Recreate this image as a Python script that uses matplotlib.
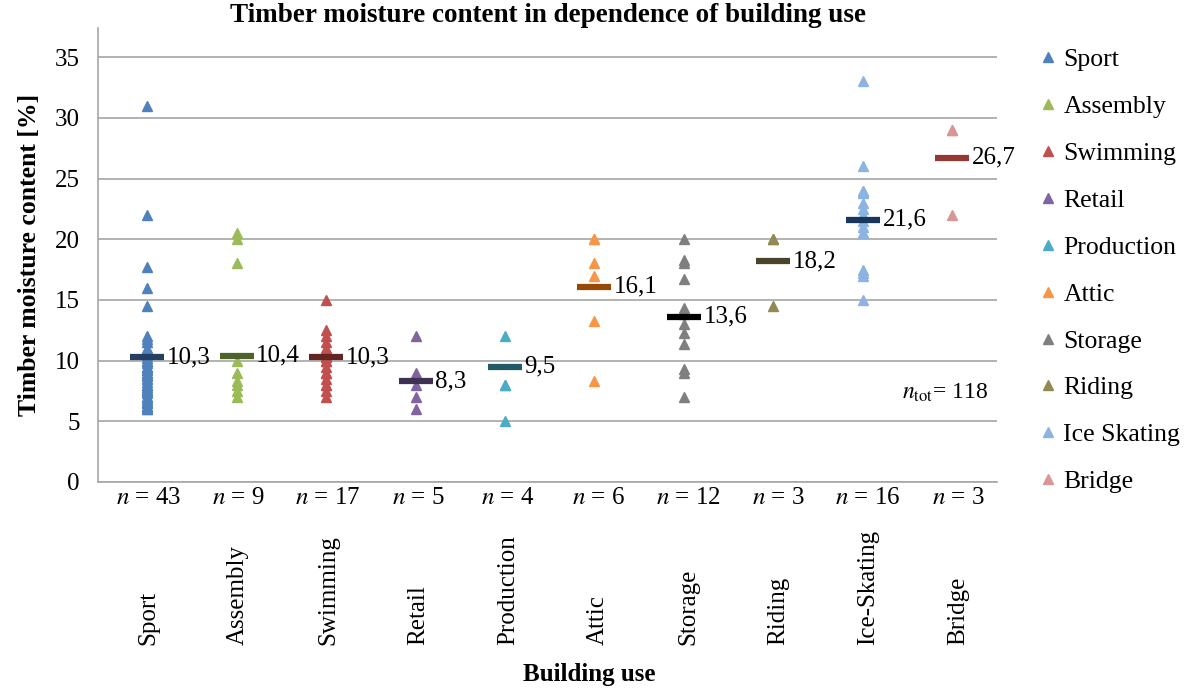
import matplotlib.pyplot as plt

plt.rcParams['font.family'] = ['Liberation Serif', 'DejaVu Serif']
plt.rcParams['mathtext.fontset'] = 'stix'

# categories
uses = ['Sport', 'Assembly', 'Swimming', 'Retail', 'Production', 'Attic',
        'Storage', 'Riding', 'Ice-Skating', 'Bridge']
legend_names = ['Sport', 'Assembly', 'Swimming', 'Retail', 'Production', 'Attic',
                'Storage', 'Riding', 'Ice Skating', 'Bridge']

# measured moisture values [%]
sport = [31, 22, 17.7, 16, 14.5, 12, 11.8, 11.5, 11, 10.8,
         10.5, 10.2, 10, 10, 9.8, 9.5, 9.5, 9.3, 9.2, 9,
         9, 8.8, 8.7, 8.5, 8.5, 8.2, 8, 8, 7.8, 7.7,
         7.5, 7.5, 7.3, 7, 7, 6.8, 6.7, 6.5, 6.5, 6.3,
         6.2, 6, 6]
assembly = [20.5, 20, 18, 10, 9, 8.3, 8, 7.5, 7]
swimming = [15, 12.5, 12, 11.5, 11, 10.5, 10.3, 10, 10, 9.5, 9, 9, 8.5, 8, 8, 7.5, 7]
retail = [12, 9, 8, 7, 6]
production = [12, 8, 8, 5]
attic = [20, 20, 18, 17, 13.3, 8.3]
storage = [20, 18.3, 18, 16.7, 14.3, 13.8, 13, 12.3, 11.4, 9.3, 9, 7]
riding = [20, 20, 14.5]
ice_skating = [33, 26, 24, 24, 23.8, 23, 22.5, 22, 21.5, 21, 20.5, 20.5, 17.5, 17.2, 17, 15]
bridge = [29, 22, 29]

series = [sport, assembly, swimming, retail, production, attic,
          storage, riding, ice_skating, bridge]

# mean values shown as bars with labels
means = [10.3, 10.4, 10.3, 8.3, 9.5, 16.1, 13.6, 18.2, 21.6, 26.7]

point_colors = ['#4F81BD', '#9BBB59', '#C0504D', '#8064A2', '#4BACC6', '#F79646',
                '#7F7F7F', '#938953', '#8DB3E2', '#D99694']
mean_colors = ['#243F60', '#4F6228', '#632523', '#3F3151', '#215967', '#974806',
               '#000000', '#4A452A', '#17375E', '#953735']

fs = 18

fig = plt.figure(figsize=(11.89, 6.90), dpi=100)
ax = fig.add_axes([98 / 1189, 1 - 482 / 690, 899 / 1189, 454 / 690])

handles = []
for i, vals in enumerate(series):
    h, = ax.plot([i] * len(vals), vals, linestyle='none', marker='^',
                 markersize=7.5, color=point_colors[i], label=legend_names[i],
                 zorder=3)
    handles.append(h)
    ax.plot([i], [means[i]], marker='_', markersize=25, markeredgewidth=4.5,
            color=mean_colors[i], zorder=4)
    ax.text(i + 0.22, means[i], f'{means[i]:.1f}'.replace('.', ','),
            fontsize=fs, va='center', ha='left', zorder=5)

ax.set_xlim(-0.55, 9.5)
ax.set_ylim(0, 37.4)
ax.set_yticks(range(0, 36, 5))
ax.set_xticks([])
ax.tick_params(axis='y', length=0, labelsize=fs, pad=13)
ax.grid(axis='y', color='#A6A6A6', linewidth=1.2)
ax.set_axisbelow(True)
for s in ['top', 'right']:
    ax.spines[s].set_visible(False)
for s in ['left', 'bottom']:
    ax.spines[s].set_color('#A6A6A6')
    ax.spines[s].set_linewidth(1.2)

tr = ax.get_xaxis_transform()
for i, vals in enumerate(series):
    xl = i * 1.006 + 0.01
    ax.text(xl, -0.035, f'$n$ = {len(vals)}', transform=tr, fontsize=fs,
            ha='center', va='center')
    ax.text(xl, -0.36, uses[i], transform=tr, fontsize=fs, rotation=90,
            ha='center', va='bottom')

ntot = sum(len(v) for v in series)
ax.text(0.99, 0.196, r'$n_{\mathrm{tot}}$' + f'= {ntot}', transform=ax.transAxes,
        fontsize=17, ha='right', va='center')

ax.set_title('Timber moisture content in dependence of building use',
             fontsize=19.5, fontweight='bold', pad=2)
ax.set_ylabel('Timber moisture content [%]', fontsize=18.5, fontweight='bold',
              labelpad=10)
fig.text(589 / 1189, 1 - 675 / 690, 'Building use', fontsize=18,
         fontweight='bold', ha='center', va='center')

fig.legend(handles=handles, loc='upper left', bbox_to_anchor=(1030 / 1189, 1 - 38 / 690),
           frameon=False, fontsize=18.5, handlelength=0.6, handletextpad=0.3,
           labelspacing=0.93, borderaxespad=0)

fig.savefig('out.png', dpi=100)
